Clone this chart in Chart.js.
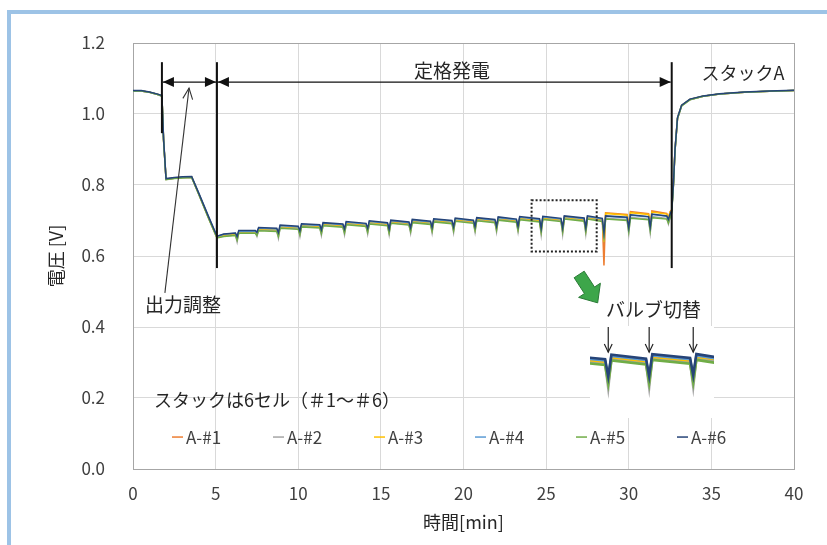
<!DOCTYPE html>
<html lang="ja">
<head>
<meta charset="utf-8">
<script src="https://cdn.jsdelivr.net/npm/chart.js@4.4.1/dist/chart.umd.min.js"></script>
<style>
  html, body { margin: 0; padding: 0; background: #fff; }
  #wrap { position: relative; width: 827px; height: 545px; overflow: hidden; }
  #frame { position: absolute; left: 7px; top: 10px; width: 900px; height: 600px;
           border-left: 4px solid #9dc3e6; border-top: 4px solid #9dc3e6; }
  #main { position: absolute; left: 0; top: 0; }
  #inset { position: absolute; left: 590px; top: 326px; background: #fff; }
</style>
</head>
<body>
<div id="wrap">
  <div id="frame"></div>
  <canvas id="main" width="827" height="545"></canvas>
  <canvas id="inset" width="124" height="92"></canvas>
</div>
<script>
// --------- データ (時間 [min] と各セル電圧 [V]) ----------
const times = [
  0, 0.5, 1.0, 1.5, 1.75, 1.85, 2.0, 2.5, 3.0, 3.55, 4.0, 4.6, 5.08,
  5.5, 6.2, 6.3, 6.4,
  7.4, 7.5, 7.6,  8.7, 8.8, 8.9,  10.0, 10.1, 10.2,  11.3, 11.4, 11.5,  12.7, 12.8, 12.9,
  14.1, 14.2, 14.3,  15.4, 15.5, 15.6,  16.7, 16.8, 16.9,  18.0, 18.1, 18.2,  19.3, 19.4, 19.5,
  20.6, 20.7, 20.8,  21.9, 22.0, 22.1,  23.2, 23.3, 23.4,  24.6, 24.7, 24.8,  25.9, 26.0, 26.1,
  27.3, 27.4, 27.5,  28.4, 28.5, 28.6,  29.9, 30.0, 30.1,  31.2, 31.3, 31.4,  32.3, 32.4, 32.5,
  32.6, 32.7, 32.8, 32.95, 33.2, 33.7, 34.5, 35.5, 37.0, 38.5, 40.0
];

const cellA1 = [
  1.065, 1.065, 1.061, 1.055, 1.051, 0.926, 0.816, 0.819, 0.821, 0.822, 0.772, 0.704, 0.652,
  0.658, 0.661, 0.650, 0.667,
  0.667, 0.662, 0.675,  0.673, 0.660, 0.682,  0.679, 0.665, 0.686,  0.683, 0.668, 0.689,  0.685, 0.670, 0.692,
  0.687, 0.672, 0.694,  0.689, 0.670, 0.696,  0.691, 0.674, 0.698,  0.693, 0.675, 0.700,  0.695, 0.676, 0.702,
  0.696, 0.677, 0.703,  0.698, 0.678, 0.705,  0.699, 0.678, 0.706,  0.700, 0.672, 0.707,  0.701, 0.673, 0.708,
  0.702, 0.674, 0.708,  0.703, 0.573, 0.722,  0.717, 0.684, 0.725,  0.719, 0.686, 0.727,  0.720, 0.706, 0.725,
  0.730, 0.800, 0.898, 0.988, 1.024, 1.041, 1.050, 1.056, 1.061, 1.064, 1.066
];
const cellA2 = [
  1.065, 1.065, 1.061, 1.055, 1.050, 0.926, 0.816, 0.819, 0.821, 0.822, 0.772, 0.704, 0.652,
  0.656, 0.659, 0.640, 0.666,
  0.666, 0.655, 0.673,  0.671, 0.650, 0.680,  0.677, 0.655, 0.684,  0.681, 0.658, 0.687,  0.683, 0.660, 0.690,
  0.685, 0.662, 0.692,  0.687, 0.660, 0.694,  0.689, 0.664, 0.696,  0.691, 0.665, 0.698,  0.693, 0.666, 0.700,
  0.694, 0.667, 0.701,  0.696, 0.668, 0.703,  0.697, 0.668, 0.704,  0.698, 0.660, 0.705,  0.699, 0.661, 0.706,
  0.700, 0.662, 0.706,  0.699, 0.648, 0.706,  0.702, 0.663, 0.709,  0.704, 0.665, 0.711,  0.706, 0.690, 0.711,
  0.724, 0.797, 0.897, 0.987, 1.023, 1.040, 1.050, 1.056, 1.061, 1.064, 1.066
];
const cellA3 = [
  1.065, 1.065, 1.061, 1.055, 1.051, 0.927, 0.817, 0.820, 0.822, 0.823, 0.773, 0.705, 0.653,
  0.659, 0.662, 0.651, 0.668,
  0.668, 0.663, 0.676,  0.674, 0.661, 0.683,  0.680, 0.666, 0.687,  0.684, 0.669, 0.690,  0.686, 0.671, 0.693,
  0.688, 0.673, 0.695,  0.690, 0.671, 0.697,  0.692, 0.675, 0.699,  0.694, 0.676, 0.701,  0.696, 0.677, 0.703,
  0.697, 0.678, 0.704,  0.699, 0.679, 0.706,  0.700, 0.679, 0.707,  0.701, 0.673, 0.708,  0.702, 0.674, 0.709,
  0.703, 0.675, 0.709,  0.703, 0.640, 0.720,  0.715, 0.682, 0.722,  0.717, 0.684, 0.724,  0.718, 0.707, 0.723,
  0.729, 0.799, 0.898, 0.988, 1.024, 1.041, 1.050, 1.056, 1.061, 1.064, 1.066
];
const cellA4 = [
  1.065, 1.065, 1.061, 1.055, 1.051, 0.928, 0.817, 0.820, 0.822, 0.823, 0.774, 0.707, 0.655,
  0.661, 0.664, 0.653, 0.670,
  0.670, 0.665, 0.678,  0.676, 0.663, 0.685,  0.682, 0.668, 0.689,  0.686, 0.671, 0.692,  0.688, 0.673, 0.695,
  0.690, 0.675, 0.697,  0.692, 0.673, 0.699,  0.694, 0.677, 0.701,  0.696, 0.678, 0.703,  0.698, 0.679, 0.705,
  0.699, 0.680, 0.706,  0.701, 0.681, 0.708,  0.702, 0.681, 0.709,  0.703, 0.675, 0.710,  0.704, 0.676, 0.711,
  0.705, 0.677, 0.711,  0.704, 0.662, 0.712,  0.708, 0.678, 0.715,  0.710, 0.680, 0.717,  0.712, 0.701, 0.717,
  0.727, 0.798, 0.898, 0.988, 1.024, 1.041, 1.050, 1.056, 1.061, 1.064, 1.066
];
const cellA5 = [
  1.065, 1.065, 1.061, 1.055, 1.050, 0.925, 0.815, 0.818, 0.820, 0.821, 0.771, 0.703, 0.651,
  0.655, 0.658, 0.645, 0.664,
  0.664, 0.658, 0.671,  0.669, 0.655, 0.678,  0.675, 0.660, 0.682,  0.679, 0.663, 0.685,  0.681, 0.665, 0.688,
  0.683, 0.667, 0.690,  0.685, 0.665, 0.692,  0.687, 0.669, 0.694,  0.689, 0.670, 0.696,  0.691, 0.671, 0.698,
  0.692, 0.672, 0.699,  0.694, 0.673, 0.701,  0.695, 0.673, 0.702,  0.696, 0.667, 0.703,  0.697, 0.668, 0.704,
  0.698, 0.669, 0.704,  0.697, 0.655, 0.704,  0.700, 0.669, 0.706,  0.702, 0.671, 0.708,  0.704, 0.693, 0.708,
  0.722, 0.796, 0.897, 0.987, 1.023, 1.040, 1.050, 1.056, 1.061, 1.064, 1.066
];
const cellA6 = [
  1.066, 1.066, 1.062, 1.056, 1.052, 0.930, 0.818, 0.821, 0.823, 0.824, 0.775, 0.708, 0.656,
  0.662, 0.665, 0.655, 0.672,
  0.672, 0.667, 0.680,  0.678, 0.666, 0.687,  0.684, 0.671, 0.691,  0.688, 0.674, 0.694,  0.690, 0.676, 0.697,
  0.692, 0.678, 0.699,  0.694, 0.676, 0.701,  0.696, 0.680, 0.703,  0.698, 0.681, 0.705,  0.700, 0.682, 0.707,
  0.701, 0.683, 0.708,  0.703, 0.684, 0.710,  0.704, 0.684, 0.711,  0.705, 0.678, 0.712,  0.706, 0.679, 0.713,
  0.707, 0.680, 0.713,  0.706, 0.665, 0.713,  0.709, 0.680, 0.716,  0.711, 0.682, 0.718,  0.713, 0.703, 0.718,
  0.728, 0.800, 0.900, 0.990, 1.025, 1.042, 1.051, 1.057, 1.062, 1.065, 1.067
];

const seriesLabels = ['A-#1', 'A-#2', 'A-#3', 'A-#4', 'A-#5', 'A-#6'];
const xTickValues = [0, 5, 10, 15, 20, 25, 30, 35, 40];
const yTickValues = [0.0, 0.2, 0.4, 0.6, 0.8, 1.0, 1.2];

// 注記 (区間の境界時刻、バルブ切替の時刻)
const markTimes = [1.75, 5.08, 32.6];
const valveTimes = [24.7, 26.0, 27.4];

// --------- スタイル ----------
const seriesColors = ['#ED7D31', '#A5A5A5', '#FFC000', '#5B9BD5', '#70AD47', '#264478'];
const textColor = '#262626';
const tickColor = '#404040';
const gridColor = '#D9D9D9';
const frameColor = '#A6A6A6';
const zoomBox = { t0: 24.12, t1: 28.06, v0: 0.613, v1: 0.757 };

Chart.defaults.font.family = '"Noto Sans CJK JP", "Noto Sans", sans-serif';

const cellValues = [cellA1, cellA2, cellA3, cellA4, cellA5, cellA6];
cellValues.forEach((vals, i) => {
  if (vals.length !== times.length) throw new Error(seriesLabels[i] + ' length ' + vals.length);
});

function makeDatasets(width){
  return cellValues.map((vals, i) => ({
    label: seriesLabels[i],
    data: times.map((t, k) => ({x: t, y: vals[k]})),
    borderColor: seriesColors[i],
    backgroundColor: seriesColors[i],
    borderWidth: width,
    pointRadius: 0,
    tension: 0,
    order: 5 - i   // A-#6 を一番上に描く
  }));
}

// --------- 矢印などの補助関数 ----------
function line(ctx, x1, y1, x2, y2){
  ctx.beginPath(); ctx.moveTo(x1, y1); ctx.lineTo(x2, y2); ctx.stroke();
}
function solidHead(ctx, px, py, dir){
  ctx.beginPath();
  ctx.moveTo(px, py);
  ctx.lineTo(px - dir * 11, py - 5);
  ctx.lineTo(px - dir * 11, py + 5);
  ctx.closePath(); ctx.fill();
}
function openArrow(ctx, x1, y1, x2, y2, len, spread){
  line(ctx, x1, y1, x2, y2);
  const a = Math.atan2(y2 - y1, x2 - x1);
  ctx.beginPath();
  ctx.moveTo(x2 - len * Math.cos(a - spread), y2 - len * Math.sin(a - spread));
  ctx.lineTo(x2, y2);
  ctx.lineTo(x2 - len * Math.cos(a + spread), y2 - len * Math.sin(a + spread));
  ctx.stroke();
}
function blockArrow(ctx, x1, y1, x2, y2){
  const a = Math.atan2(y2 - y1, x2 - x1);
  const L = Math.hypot(x2 - x1, y2 - y1);
  const hl = 15, sw = 6, hw = 13;
  const pts = [[0, -sw], [L - hl, -sw], [L - hl, -hw], [L, 0], [L - hl, hw], [L - hl, sw], [0, sw]];
  ctx.beginPath();
  pts.forEach(([u, v], i) => {
    const px = x1 + u * Math.cos(a) - v * Math.sin(a);
    const py = y1 + u * Math.sin(a) + v * Math.cos(a);
    if (i === 0) ctx.moveTo(px, py); else ctx.lineTo(px, py);
  });
  ctx.closePath();
  ctx.fillStyle = '#3DA64A'; ctx.fill();
  ctx.strokeStyle = '#2A7A36'; ctx.lineWidth = 1; ctx.stroke();
}

// --------- 本図の注記・凡例 ----------
const notePlugin = {
  id: 'notes',
  afterDraw(chart){
    const {ctx, chartArea, scales: {x, y}} = chart;
    ctx.save();
    ctx.strokeStyle = '#111'; ctx.fillStyle = '#111';

    // 区間の縦線
    const bottoms = [0.946, 0.566, 0.566];
    ctx.lineWidth = 2;
    markTimes.forEach((t, i) => line(ctx, x.getPixelForValue(t), y.getPixelForValue(1.146), x.getPixelForValue(t), y.getPixelForValue(bottoms[i])));

    // 両矢印
    const ay = y.getPixelForValue(1.09);
    const [m0, m1, m2] = markTimes.map(t => x.getPixelForValue(t));
    ctx.lineWidth = 1.3;
    line(ctx, m0 + 1, ay, m2 - 1, ay);
    solidHead(ctx, m0 + 1, ay, -1); solidHead(ctx, m1 - 1, ay, 1);
    solidHead(ctx, m1 + 1, ay, -1); solidHead(ctx, m2 - 1, ay, 1);

    // 出力調整の引き出し矢印
    ctx.lineWidth = 1.1; ctx.strokeStyle = '#333';
    openArrow(ctx, x.getPixelForValue(1.93), y.getPixelForValue(0.496), x.getPixelForValue(3.39), y.getPixelForValue(1.073), 12, 0.42);

    // 拡大範囲の点線枠
    ctx.strokeStyle = '#222'; ctx.lineWidth = 2; ctx.setLineDash([2, 2]);
    ctx.strokeRect(x.getPixelForValue(zoomBox.t0), y.getPixelForValue(zoomBox.v1),
      x.getPixelForValue(zoomBox.t1) - x.getPixelForValue(zoomBox.t0),
      y.getPixelForValue(zoomBox.v0) - y.getPixelForValue(zoomBox.v1));
    ctx.setLineDash([]);

    // 緑の矢印
    blockArrow(ctx, x.getPixelForValue(27.0), y.getPixelForValue(0.548), x.getPixelForValue(28.12), y.getPixelForValue(0.468));

    // テキスト
    ctx.fillStyle = textColor;
    ctx.textBaseline = 'middle';
    ctx.font = '19px "Noto Sans CJK JP"';
    ctx.textAlign = 'center';
    ctx.fillText('定格発電', x.getPixelForValue(19.3), y.getPixelForValue(1.122));
    ctx.fillText('バルブ切替', x.getPixelForValue(31.5), y.getPixelForValue(0.448));
    ctx.textAlign = 'left';
    ctx.fillText('出力調整', x.getPixelForValue(0.73), y.getPixelForValue(0.462));
    ctx.font = '18px "Noto Sans CJK JP"';
    ctx.fillText('スタックA', x.getPixelForValue(34.4), y.getPixelForValue(1.115));
    ctx.fillText('スタックは6セル（＃1～＃6）', x.getPixelForValue(1.27), y.getPixelForValue(0.194));

    // 凡例
    ctx.font = '17px "Noto Sans CJK JP"';
    const ly = y.getPixelForValue(0.09);
    chart.data.datasets.forEach((ds, i) => {
      const lx = chartArea.left + 39 + i * 101;
      ctx.strokeStyle = ds.borderColor; ctx.lineWidth = 1.5;
      line(ctx, lx, ly, lx + 11, ly);
      ctx.fillStyle = tickColor;
      ctx.fillText(ds.label, lx + 14, ly);
    });
    ctx.restore();
  }
};

new Chart(document.getElementById('main'), {
  type: 'line',
  data: { datasets: makeDatasets(1.5) },
  options: {
    responsive: false,
    animation: false,
    devicePixelRatio: 1,
    layout: { padding: { top: 43, right: 33, left: 0, bottom: 0 } },
    plugins: { legend: { display: false }, tooltip: { enabled: false } },
    scales: {
      x: {
        type: 'linear', min: xTickValues[0], max: xTickValues[xTickValues.length - 1],
        afterBuildTicks: s => { s.ticks = xTickValues.map(v => ({value: v})); },
        afterFit: s => { s.height = 76; },
        ticks: { padding: 14, color: tickColor, font: { size: 17 } },
        grid: { drawTicks: false, color: c => (c.tick && c.tick.value === 40) ? frameColor : gridColor },
        border: { color: frameColor },
        title: { display: true, text: '時間[min]', color: textColor, font: { size: 18 }, padding: { top: 0, bottom: 12 } }
      },
      y: {
        min: yTickValues[0], max: yTickValues[yTickValues.length - 1],
        afterBuildTicks: s => { s.ticks = yTickValues.map(v => ({value: v})); },
        afterFit: s => { s.width = 133; },
        ticks: { padding: 28, color: tickColor, font: { size: 17 }, callback: v => Number(v).toFixed(1) },
        grid: { drawTicks: false, color: c => (c.tick && Math.abs(c.tick.value - 1.2) < 1e-6) ? frameColor : gridColor },
        border: { color: frameColor },
        title: { display: true, text: '電圧 [V]', color: textColor, font: { size: 18 }, padding: { top: 45, bottom: 0 } }
      }
    }
  },
  plugins: [notePlugin]
});

// --------- 拡大図 ----------
const insetPlugin = {
  id: 'insetArrows',
  afterDraw(chart){
    const {ctx, chartArea, scales: {x, y}} = chart;
    ctx.save();
    ctx.strokeStyle = '#222'; ctx.lineWidth = 1.2;
    valveTimes.forEach(t => {
      const px = x.getPixelForValue(t);
      openArrow(ctx, px, chartArea.top + 1, px, y.getPixelForValue(0.716), 9, 0.45);
    });
    ctx.restore();
  }
};

new Chart(document.getElementById('inset'), {
  type: 'line',
  data: { datasets: makeDatasets(2.6) },
  options: {
    responsive: false,
    animation: false,
    devicePixelRatio: 1,
    layout: { padding: 0 },
    plugins: { legend: { display: false }, tooltip: { enabled: false } },
    scales: {
      x: { type: 'linear', display: false, min: zoomBox.t0, max: zoomBox.t1 },
      y: { display: false, min: zoomBox.v0, max: zoomBox.v1 }
    }
  },
  plugins: [insetPlugin]
});
</script>
</body>
</html>
